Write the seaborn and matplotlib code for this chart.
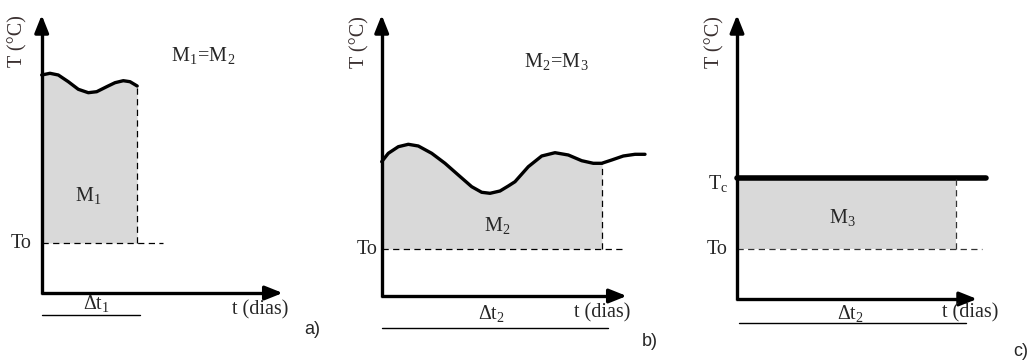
import numpy as np
import pandas as pd
import matplotlib
matplotlib.use("Agg")
import matplotlib.pyplot as plt
import seaborn as sns

sns.set_theme(style="white")
plt.rcParams["font.family"] = ["Liberation Serif", "DejaVu Serif"]
plt.rcParams["mathtext.fontset"] = "custom"
plt.rcParams["mathtext.rm"] = "Liberation Serif"
plt.rcParams["mathtext.it"] = "Liberation Serif:italic"

# ---------------- data (schematic units) ----------------
# panel a: temperature curve over Δt1
t_a = [0, 8.3, 16.6, 26.6, 36.6, 46.6, 55, 65, 73.3, 81.6, 88.3, 95.5]
T_a = [218, 219.7, 218, 211.3, 203.7, 200.3, 201.3, 206.3, 210.3, 212.3, 211.3, 207]
To_a = 50
dt_a = 95.5

# panel b: temperature curve over Δt2
t_b = [0, 6.6, 16.6, 26.6, 36.6, 50, 63.3, 76.6, 90, 100, 108.3, 118.3, 126.6,
       133.3, 146.6, 160, 173.3, 186.6, 200, 211.6, 220, 230, 241.6, 253.3, 263.3]
T_b = [134.3, 142.7, 149.3, 151.7, 150, 142.7, 132.7, 121, 109.3, 103.7, 102.7,
       105, 110, 114.3, 129.3, 140, 143.3, 141, 135.3, 132.7, 132.7, 136, 140,
       141.7, 141.7]
To_b = 47
dt_b = 220.3

# panel c: constant temperature Tc
t_c = [0, 249]
T_c = [121, 121]
To_c = 50
dt_c = 219

panel_titles = ["a)", "b)", "c)"]
area_labels = [r"$\mathrm{M_1}$", r"$\mathrm{M_2}$", r"$\mathrm{M_3}$"]
eq_labels = [r"$\mathrm{M_1}\!=\!\mathrm{M_2}$", r"$\mathrm{M_2}\!=\!\mathrm{M_3}$", None]
dt_labels = [r"$\mathrm{Δt_1}$", r"$\mathrm{Δt_2}$", r"$\mathrm{Δt_2}$"]
y_label = "T (°C)"
x_label = "t (dias)"

# ---------------- layout ----------------
W, H = 1029, 361
fig = plt.figure(figsize=(W / 100, H / 100), dpi=100)
fig.patch.set_facecolor("white")

# per panel: (left px, right px, origin x px, origin y px)
panels = [(0, 340, 41.7, 293), (340, 680, 381.7, 296), (680, 1029, 737, 299)]

FILL = "#d9d9d9"
FS = 14.5
AX_LW = 2.4
DASH = (0, (5, 3.5))


def make_ax(left, right, ox, oy):
    ax = fig.add_axes([left / W, 0, (right - left) / W, 1])
    ax.set_xlim(left - ox, right - ox)
    ax.set_ylim(oy - H, oy)
    ax.axis("off")
    return ax


def axes_arrows(ax, tip_x, tip_y):
    kw = dict(arrowstyle="-|>,head_length=0.75,head_width=0.3", lw=AX_LW,
              color="black", shrinkA=0, shrinkB=0, mutation_scale=14)
    ax.plot([-1.2, tip_x - 8], [0, 0], color="black", lw=AX_LW,
            solid_capstyle="butt")
    ax.plot([0, 0], [-1.2, tip_y - 8], color="black", lw=AX_LW,
            solid_capstyle="butt")
    ax.annotate("", xy=(tip_x, 0), xytext=(tip_x - 10, 0), arrowprops=kw)
    ax.annotate("", xy=(0, tip_y), xytext=(0, tip_y - 10), arrowprops=kw)


def common_text(ax, ylab_xy, to_xy, dt_xy, dt_lab, underline, xlab_xy,
                title_xy, title, title_ha="center"):
    ax.text(*ylab_xy, y_label, rotation=90, ha="center", va="center",
            fontsize=FS, color="#3a3030")
    ax.text(*to_xy, "To", ha="center", va="center", fontsize=FS)
    ax.text(*dt_xy, dt_lab, ha="center", va="center", fontsize=FS)
    ax.plot(underline[0], underline[1], color="black", lw=1.0)
    ax.text(*xlab_xy, x_label, ha="center", va="center", fontsize=FS)
    ax.text(*title_xy, title, ha=title_ha, va="center", fontsize=13,
            family=["Liberation Sans", "DejaVu Sans"], clip_on=False)


# ---------- panel a ----------
ax = make_ax(*panels[0])
ax.fill_between(t_a, To_a, T_a, color=FILL, lw=0)
sns.lineplot(x=t_a, y=T_a, ax=ax, sort=False, color="black", lw=2.4)
ax.plot([dt_a, dt_a], [To_a, T_a[-1]], color="black", lw=0.9, ls=DASH)
ax.plot([0, 121], [To_a, To_a], color="black", lw=0.9, ls=DASH)
axes_arrows(ax, 241, 278)
ax.text(161, 238, eq_labels[0], ha="center", va="center", fontsize=FS)
ax.text(46, 98, area_labels[0], ha="center", va="center", fontsize=FS)
common_text(ax, (-23.7, 252), (-20.7, To_a), (55, -11), dt_labels[0],
            ([0.3, 98], [-22, -22]), (218, -17), (271, -37), panel_titles[0])

# ---------- panel b ----------
ax = make_ax(*panels[1])
mask_t = [t for t in t_b if t <= dt_b] + [dt_b]
mask_T = [T for t, T in zip(t_b, T_b) if t <= dt_b] + [132.7]
ax.fill_between(mask_t, To_b, mask_T, color=FILL, lw=0)
sns.lineplot(x=t_b, y=T_b, ax=ax, sort=False, color="black", lw=2.4)
ax.plot([dt_b, dt_b], [To_b, 132.7], color="black", lw=0.9, ls=DASH)
ax.plot([0, 243], [To_b, To_b], color="black", lw=0.9, ls=DASH)
axes_arrows(ax, 245, 281)
ax.text(175, 234, eq_labels[1], ha="center", va="center", fontsize=FS)
ax.text(115, 71, area_labels[1], ha="center", va="center", fontsize=FS)
common_text(ax, (-21.7, 254), (-14.2, To_b), (110, -17), dt_labels[1],
            ([0, 226], [-32, -32]), (220, -17), (268, -46), panel_titles[1])

# ---------- panel c ----------
ax = make_ax(*panels[2])
ax.fill_between([0, dt_c], To_c, T_c[0], color=FILL, lw=0)
sns.lineplot(x=t_c, y=T_c, ax=ax, sort=False, color="black", lw=4.0)
ax.plot([dt_c, dt_c], [To_c, T_c[0]], color="#333333", lw=0.9, ls=DASH)
ax.plot([0, 245], [To_c, To_c], color="#333333", lw=0.9, ls=DASH)
axes_arrows(ax, 240, 284)
ax.text(-19, 116, r"$\mathrm{T_c}$", ha="center", va="center", fontsize=FS)
ax.text(105, 82, area_labels[2], ha="center", va="center", fontsize=FS)
common_text(ax, (-22, 257), (-19.5, To_c), (113, -14), dt_labels[2],
            ([2, 229], [-24, -24]), (233, -14), (276, -53), panel_titles[2],
            title_ha="left")

fig.savefig("out.png", dpi=100, facecolor="white")
